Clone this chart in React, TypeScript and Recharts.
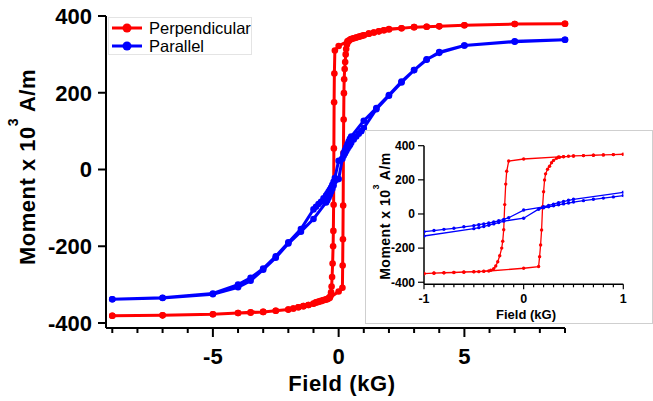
import React from 'react';
import { ScatterChart, Scatter, XAxis, YAxis, Legend } from 'recharts';

const FONT = "'Liberation Sans', Arial, Helvetica, sans-serif";
const RED = '#ff0000';
const BLUE = '#0000ff';

const seriesNames = ['Perpendicular', 'Parallel'];

// Perpendicular: field swept from +9 down to -9 kG
const perpDownField = [
  9, 7, 5, 4, 3.5, 3, 2.5, 2, 1.8, 1.6, 1.4, 1.2, 1, 0.9, 0.8, 0.7, 0.6, 0.5, 0.45, 0.4, 0.35,
  0, -0.15, -0.17, -0.18, -0.19, -0.2, -0.21, -0.22, -0.24, -0.26, -0.28, -0.3, -0.33, -0.4,
  -0.5, -0.6, -0.7, -0.8, -0.9, -1, -1.2, -1.4, -1.6, -1.8, -2, -2.5, -3, -3.5, -4, -5, -7, -9,
];
const perpDownMoment = [
  380, 379, 376, 373, 372, 371, 368, 365, 363, 360, 357, 354, 350, 348, 346, 344, 342, 340, 338, 336, 334,
  322, 310, 250, 175, 55, -92, -160, -200, -245, -280, -305, -320, -330, -335,
  -338, -340, -342, -344, -346, -349, -353, -356, -359, -362, -365, -368, -371, -372, -374, -377, -380, -381,
];

// Perpendicular: field swept back from -9 up to +9 kG
const perpUpField = [
  -9, -7, -5, -4, -3.5, -3, -2.5, -2, -1.8, -1.6, -1.4, -1.2, -1, -0.9, -0.8, -0.7, -0.6, -0.5, -0.45, -0.4, -0.35,
  0, 0.15, 0.16, 0.17, 0.18, 0.19, 0.2, 0.21, 0.22, 0.24, 0.26, 0.28, 0.3, 0.33, 0.36, 0.4,
  0.5, 0.6, 0.7, 0.8, 0.9, 1, 1.2, 1.4, 1.6, 1.8, 2, 2.5, 3, 3.5, 4, 5, 7, 9,
];
const perpUpMoment = [
  -381, -380, -377, -374, -373, -371, -368, -365, -362, -359, -356, -353, -350, -347, -345, -343, -341, -339, -338, -336, -334,
  -318, -308, -250, -182, -94, 43, 130, 199, 235, 262, 280, 300, 314, 326, 332, 335,
  340, 342, 344, 346, 348, 350, 354, 357, 360, 363, 366, 368, 371, 372, 373, 376, 379, 380,
];

// Parallel: +9 -> -9 kG
const paraDownField = [
  9, 7, 5, 4, 3.5, 3, 2.5, 2, 1.5, 1, 0.5, 0.45, 0.4, 0.35, 0.3, 0.25, 0.2, 0,
  -0.15, -0.2, -0.25, -0.3, -0.35, -0.4, -0.45, -0.5, -0.6, -0.7, -0.8, -0.9, -1,
  -1.5, -2, -2.5, -3, -3.5, -4, -5, -7, -9,
];
const paraDownMoment = [
  338, 334, 323, 304, 287, 259, 229, 194, 160, 127, 86, 80, 73, 66, 58, 50, 42, 23,
  -22, -32, -40, -47, -53, -58, -63, -68, -75, -84, -90, -97, -104,
  -155, -190, -226, -258, -282, -300, -323, -334, -338,
];

// Parallel: -9 -> +9 kG
const paraUpField = [
  -9, -7, -5, -4, -3.5, -3, -2.5, -2, -1.5, -1, -0.5, -0.45, -0.4, -0.35, -0.3, -0.25, -0.2, 0,
  0.15, 0.2, 0.25, 0.3, 0.35, 0.4, 0.45, 0.5, 0.6, 0.7, 0.8, 0.9, 1,
  1.5, 2, 2.5, 3, 3.5, 4, 5, 7, 9,
];
const paraUpMoment = [
  -338, -335, -325, -307, -290, -261, -230, -193, -162, -129, -86, -80, -73, -66, -58, -50, -42, -25,
  28, 36, 42, 48, 54, 59, 64, 70, 78, 86, 93, 100, 108,
  157, 192, 227, 259, 286, 306, 323, 333, 338,
];

const mainXTicks = [-9, -8, -7, -6, -5, -4, -3, -2, -1, 0, 1, 2, 3, 4, 5, 6, 7, 8, 9];
const mainXLabels = [-5, 0, 5];
const mainYTicks = [-400, -200, 0, 200, 400];
const insetXTicks = [-1, -0.9, -0.8, -0.7, -0.6, -0.5, -0.4, -0.3, -0.2, -0.1, 0, 0.1, 0.2, 0.3, 0.4, 0.5, 0.6, 0.7, 0.8, 0.9, 1];
const insetXLabels = [-1, 0, 1];
const insetYTicks = [-400, -200, 0, 200, 400];

const toPoints = (field: number[], moment: number[]) => field.map((h, i) => ({ h, m: moment[i] }));

const perpData = [...toPoints(perpDownField, perpDownMoment), ...toPoints(perpUpField, perpUpMoment)];
const paraData = [...toPoints(paraDownField, paraDownMoment), ...toPoints(paraUpField, paraUpMoment)];

const dot = (color: string, r: number) => (p: any) => <circle cx={p.cx} cy={p.cy} r={r} fill={color} />;

function MainXTick(props: any) {
  const { x, y, payload } = props;
  const major = mainXLabels.includes(payload.value);
  return (
    <g>
      <line x1={x} y1={y} x2={x} y2={y + (major ? 9 : 5)} stroke="#000" strokeWidth={2} />
      {major && (
        <text x={x} y={y + 35.5} textAnchor="middle" fontFamily={FONT} fontSize={22} fontWeight="bold" fill="#000">
          {payload.value}
        </text>
      )}
    </g>
  );
}

function InsetXTick(props: any) {
  const { x, y, payload } = props;
  const major = insetXLabels.includes(payload.value);
  return (
    <g>
      <line x1={x} y1={y} x2={x} y2={y + (major ? 5 : 3)} stroke="#000" strokeWidth={1.2} />
      {major && (
        <text x={x} y={y + 19} textAnchor="middle" fontFamily={FONT} fontSize={12.5} fontWeight="bold" fill="#000">
          {payload.value}
        </text>
      )}
    </g>
  );
}

function MomentLabel({ x, cy, size, sup, rise }: { x: number; cy: number; size: number; sup: number; rise: number }) {
  return (
    <text
      transform={`translate(${x}, ${cy}) rotate(-90)`}
      textAnchor="middle"
      fontFamily={FONT}
      fontSize={size}
      fontWeight="bold"
      letterSpacing={0.5}
      fill="#000"
    >
      <tspan>Moment x 10</tspan>
      <tspan dy={-rise} fontSize={sup}>3</tspan>
      <tspan dy={rise}> A/m</tspan>
    </text>
  );
}

function MainLegend(props: any) {
  const items = [...(props.payload || [])].sort(
    (a: any, b: any) => seriesNames.indexOf(a.value) - seriesNames.indexOf(b.value)
  );
  return (
    <div
      style={{
        width: 144,
        height: 38,
        boxSizing: 'border-box',
        border: '1px solid #e4e4e4',
        background: '#fff',
        paddingTop: 1,
      }}
    >
      {items.map((entry: any) => (
        <div key={entry.value} style={{ display: 'flex', alignItems: 'center', height: 18 }}>
          <svg width={40} height={18} style={{ display: 'block' }}>
            <line x1={3} y1={9} x2={33} y2={9} stroke={entry.color} strokeWidth={3} />
            <circle cx={18} cy={9} r={4.5} fill={entry.color} />
          </svg>
          <span style={{ fontFamily: FONT, fontSize: 16.5, color: '#000', lineHeight: '18px' }}>{entry.value}</span>
        </div>
      ))}
    </div>
  );
}

export default function App() {
  return (
    <div style={{ position: 'absolute', left: 0, top: 0, width: 653, height: 401, background: '#fff' }}>
      <ScatterChart width={653} height={401} margin={{ top: 16, right: 88, bottom: 0, left: 0 }}>
        <XAxis
          type="number"
          dataKey="h"
          domain={[-9.25, 9]}
          ticks={mainXTicks}
          interval={0}
          height={73}
          tickSize={0}
          tickMargin={0}
          tickLine={false}
          tick={<MainXTick />}
          axisLine={{ stroke: '#000', strokeWidth: 2 }}
          label={{
            content: () => (
              <text x={342} y={391} textAnchor="middle" fontFamily={FONT} fontSize={22} fontWeight="bold" letterSpacing={0.6} fill="#000">
                Field (kG)
              </text>
            ),
          }}
        />
        <YAxis
          type="number"
          dataKey="m"
          domain={[-413, 400]}
          ticks={mainYTicks}
          interval={0}
          width={106}
          tickSize={8}
          tickMargin={6}
          tickLine={{ stroke: '#000', strokeWidth: 2 }}
          axisLine={{ stroke: '#000', strokeWidth: 2 }}
          tick={{ fontSize: 22, fontWeight: 'bold', fill: '#000', fontFamily: FONT }}
          label={{ content: () => <MomentLabel x={35} cy={167} size={22} sup={14} rise={17} /> }}
        />
        <Legend
          layout="vertical"
          align="center"
          verticalAlign="middle"
          content={<MainLegend />}
          wrapperStyle={{ top: 17, left: 108, width: 144, height: 38 }}
        />
        <Scatter
          name="Perpendicular"
          data={perpData}
          fill={RED}
          line={{ stroke: RED, strokeWidth: 3 }}
          shape={dot(RED, 3.3)}
          isAnimationActive={false}
        />
        <Scatter
          name="Parallel"
          data={paraData}
          fill={BLUE}
          line={{ stroke: BLUE, strokeWidth: 3 }}
          shape={dot(BLUE, 3.3)}
          isAnimationActive={false}
        />
      </ScatterChart>

      <div
        style={{
          position: 'absolute',
          left: 365,
          top: 130,
          width: 288,
          height: 194,
          boxSizing: 'border-box',
          border: '1px solid #cfcfcf',
          background: '#fff',
        }}
      >
        <ScatterChart width={286} height={192} margin={{ top: 14.7, right: 28.7, bottom: 0, left: 0 }}>
          <XAxis
            type="number"
            dataKey="h"
            domain={[-1, 1]}
            allowDataOverflow
            ticks={insetXTicks}
            interval={0}
            height={38.7}
            tickSize={0}
            tickMargin={0}
            tickLine={false}
            tick={<InsetXTick />}
            axisLine={{ stroke: '#000', strokeWidth: 1.5 }}
            label={{
              content: () => (
                <text x={160} y={187.5} textAnchor="middle" fontFamily={FONT} fontSize={13} fontWeight="bold" fill="#000">
                  Field (kG)
                </text>
              ),
            }}
          />
          <YAxis
            type="number"
            dataKey="m"
            domain={[-412, 400]}
            allowDataOverflow
            ticks={insetYTicks}
            interval={0}
            width={58}
            tickSize={6}
            tickMargin={3}
            tickLine={{ stroke: '#000', strokeWidth: 1.2 }}
            axisLine={{ stroke: '#000', strokeWidth: 1.5 }}
            tick={{ fontSize: 12, fontWeight: 'bold', fill: '#000', fontFamily: FONT }}
            label={{ content: () => <MomentLabel x={24} cy={85} size={14} sup={9} rise={11} /> }}
          />
          <Scatter
            name="Perpendicular"
            data={perpData}
            fill={RED}
            line={{ stroke: RED, strokeWidth: 1.3 }}
            shape={dot(RED, 1.7)}
            isAnimationActive={false}
          />
          <Scatter
            name="Parallel"
            data={paraData}
            fill={BLUE}
            line={{ stroke: BLUE, strokeWidth: 1.3 }}
            shape={dot(BLUE, 1.7)}
            isAnimationActive={false}
          />
        </ScatterChart>
      </div>
    </div>
  );
}
